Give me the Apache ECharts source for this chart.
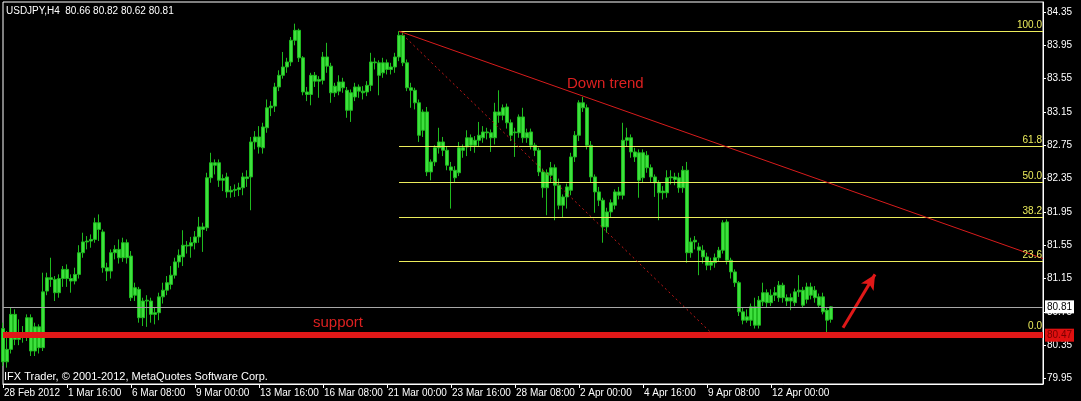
<!DOCTYPE html>
<html><head><meta charset="utf-8">
<script src="https://cdn.jsdelivr.net/npm/echarts@6/dist/echarts.min.js"></script>
<style>html,body{margin:0;padding:0;background:#000;}#c{width:1081px;height:401px;}</style>
</head><body><div id="c"></div>
<script>
// ---- data ----
const tradingDays = ['28 Feb','29 Feb','1 Mar','2 Mar','5 Mar','6 Mar','7 Mar','8 Mar','9 Mar','12 Mar','13 Mar','14 Mar','15 Mar','16 Mar','19 Mar','20 Mar','21 Mar','22 Mar','23 Mar','26 Mar','27 Mar','28 Mar','29 Mar','30 Mar','2 Apr','3 Apr','4 Apr','5 Apr','6 Apr','9 Apr','10 Apr','11 Apr','12 Apr','13 Apr','16 Apr'];
const barHours = ['00:00','04:00','08:00','12:00','16:00','20:00'];

const opens = [80.55,80.15,80.30,80.72,80.42,80.48,80.45,80.68,80.28,80.57,
80.32,81.00,81.16,81.14,80.98,81.15,81.26,81.15,81.12,81.20,
81.46,81.59,81.60,81.62,81.82,81.71,81.28,81.24,81.46,81.50,
81.40,81.58,81.42,80.95,81.02,80.68,80.88,80.88,80.72,80.74,
80.93,81.01,81.08,81.19,81.35,81.41,81.55,81.54,81.58,81.65,
81.77,81.76,82.36,82.54,82.54,82.33,82.37,82.19,82.21,82.22,
82.24,82.37,82.37,82.79,82.85,82.72,82.96,83.20,83.22,83.45,
83.59,83.69,83.75,84.01,84.13,83.80,83.39,83.36,83.59,83.52,
83.53,83.81,83.70,83.38,83.40,83.51,83.41,83.17,83.33,83.45,
83.40,83.39,83.47,83.75,83.74,83.62,83.74,83.66,83.69,83.81,
84.07,83.74,83.44,83.41,83.26,82.93,83.15,82.43,82.55,82.72,
82.79,82.69,82.49,82.45,82.42,82.72,82.73,82.84,82.75,82.81,
82.84,82.91,82.90,82.84,83.15,83.11,83.21,83.02,82.91,82.90,
83.09,82.84,82.91,82.75,82.69,82.43,82.24,82.39,82.48,82.27,
82.03,82.13,82.21,82.61,82.87,83.26,83.20,82.75,82.37,82.19,
82.09,81.77,81.95,82.03,82.19,82.15,82.81,82.84,82.67,82.66,
82.36,82.63,82.48,82.37,82.30,82.18,82.18,82.36,82.37,82.36,
82.24,82.45,81.46,81.59,81.53,81.49,81.41,81.31,81.34,81.40,
81.49,81.83,81.37,81.23,81.10,80.75,80.65,80.65,80.81,80.59,
80.87,80.98,80.86,80.95,80.92,81.07,80.92,80.88,80.86,80.99,
81.01,80.90,81.05,81.01,80.93,80.93,80.77,80.66];
const closes = [80.15,80.30,80.72,80.42,80.48,80.45,80.68,80.28,80.57,80.32,
80.99,81.16,81.14,80.98,81.15,81.26,81.15,81.12,81.20,81.46,
81.59,81.60,81.62,81.82,81.74,81.28,81.24,81.46,81.50,81.40,
81.58,81.40,80.92,81.04,80.68,80.88,80.89,80.72,80.74,80.93,
81.01,81.10,81.19,81.35,81.43,81.55,81.54,81.58,81.65,81.77,
81.74,82.36,82.54,82.51,82.33,82.35,82.19,82.21,82.22,82.24,
82.37,82.35,82.79,82.85,82.73,82.97,83.20,83.22,83.45,83.59,
83.69,83.75,84.01,84.13,83.80,83.39,83.36,83.59,83.52,83.54,
83.81,83.70,83.38,83.46,83.51,83.44,83.17,83.38,83.45,83.40,
83.38,83.47,83.75,83.74,83.59,83.74,83.66,83.69,83.81,84.07,
83.74,83.44,83.41,83.26,82.87,83.15,82.43,82.55,82.72,82.79,
82.69,82.51,82.45,82.36,82.72,82.69,82.84,82.75,82.81,82.87,
82.91,82.90,82.84,83.15,83.11,83.20,83.02,82.87,82.90,83.09,
82.84,82.90,82.75,82.69,82.43,82.24,82.42,82.48,82.27,82.03,
82.13,82.25,82.61,82.87,83.26,83.20,82.75,82.37,82.19,82.09,
81.77,81.95,82.06,82.19,82.15,82.81,82.84,82.67,82.61,82.33,
82.66,82.48,82.37,82.30,82.18,82.20,82.36,82.37,82.34,82.24,
82.45,81.46,81.59,81.61,81.49,81.41,81.31,81.35,81.40,81.49,
81.82,81.37,81.23,81.10,80.75,80.65,80.69,80.81,80.59,80.89,
80.98,80.86,80.95,80.98,81.07,80.92,80.88,80.92,80.99,81.01,
80.83,81.05,80.95,80.92,80.83,80.75,80.65,80.81];
const lows = [80.10,80.08,80.25,80.35,80.35,80.38,80.40,80.22,80.22,80.25,
80.28,80.95,81.05,80.88,80.92,81.05,81.05,80.98,81.08,81.15,
81.40,81.50,81.52,81.58,81.60,81.22,81.12,81.15,81.38,81.33,
81.35,81.33,80.88,80.88,80.62,80.58,80.57,80.62,80.60,80.65,
80.85,80.95,81.02,81.15,81.28,81.30,81.45,81.40,81.50,81.58,
81.47,81.72,82.30,82.40,82.25,82.20,82.12,82.12,82.13,82.14,
82.15,82.25,81.97,82.70,82.65,82.65,82.90,83.10,83.15,83.40,
83.55,83.62,83.70,83.95,83.75,83.35,83.28,83.23,83.45,83.32,
83.48,83.62,83.26,83.33,83.35,83.38,83.08,83.03,83.28,83.32,
83.30,83.34,83.40,83.66,83.35,83.56,83.60,83.60,83.62,83.76,
83.70,83.40,83.20,83.18,82.79,82.85,82.38,82.33,82.50,82.65,
82.62,82.45,81.99,82.30,82.38,82.60,82.62,82.68,82.66,82.74,
82.78,82.82,82.67,82.76,83.02,83.05,82.95,82.80,82.61,82.84,
82.78,82.78,82.70,82.62,82.38,82.12,81.91,82.30,81.85,81.98,
81.88,81.99,82.15,82.55,82.80,83.15,82.70,82.30,81.94,82.02,
81.58,81.70,81.88,81.98,82.10,82.10,82.74,82.60,82.55,82.12,
82.30,82.42,82.30,82.13,81.85,82.10,82.12,82.28,82.27,82.18,
82.18,81.34,81.40,81.50,81.19,81.33,81.25,81.25,81.28,81.35,
81.45,81.32,81.15,81.05,80.70,80.60,80.62,80.58,80.55,80.55,
80.82,80.80,80.82,80.88,80.87,80.86,80.82,80.77,80.82,80.93,
80.80,80.85,80.90,80.86,80.80,80.72,80.50,80.62];
const highs = [80.62,80.52,80.80,80.78,80.66,80.58,80.72,80.72,80.62,80.60,
81.22,81.22,81.40,81.18,81.20,81.30,81.32,81.20,81.28,81.55,
81.70,81.66,81.68,81.88,81.92,81.74,81.34,81.50,81.55,81.62,
81.64,81.62,81.48,81.10,81.05,80.92,80.95,80.92,80.80,80.98,
81.10,81.18,81.30,81.40,81.50,81.73,81.60,81.65,81.72,81.89,
81.82,82.42,82.66,82.58,82.58,82.40,82.42,82.26,82.28,82.30,
82.42,82.45,82.85,82.92,82.98,83.02,83.30,83.28,83.50,83.65,
83.87,83.80,84.05,84.21,84.15,83.82,83.45,83.62,83.63,83.58,
83.87,83.98,83.74,83.50,83.59,83.56,83.45,83.42,83.50,83.48,
83.46,83.52,83.86,83.80,83.77,83.80,83.78,83.74,83.86,84.12,
84.10,83.78,83.50,83.44,83.30,83.18,83.21,82.58,82.75,82.96,
82.85,82.73,82.55,82.50,82.79,82.76,82.93,82.88,82.86,83.03,
82.98,82.96,82.94,83.26,83.41,83.24,83.25,83.06,82.96,83.12,
83.20,82.95,82.95,82.78,82.72,82.47,82.46,82.55,82.52,82.35,
82.16,82.29,82.66,82.92,83.29,83.33,83.24,82.80,82.40,82.25,
82.12,82.00,82.10,82.22,82.25,83.02,82.96,82.88,82.72,82.70,
82.70,82.68,82.52,82.40,82.33,82.26,82.45,82.45,82.42,82.42,
82.50,82.55,81.64,81.66,81.58,81.55,81.46,81.40,81.45,81.53,
81.85,81.86,81.40,81.26,81.12,80.80,80.78,80.85,80.92,80.94,
81.10,81.02,81.02,81.05,81.12,81.10,80.96,80.97,81.03,81.19,
81.05,81.10,81.10,81.06,80.97,80.98,80.80,80.82];

const yTickValues = [79.95,80.35,80.75,81.15,81.55,81.95,82.35,82.75,83.15,83.55,83.95,84.35];
const fibLevels = [100.0,61.8,50.0,38.2,23.6,0.0];
const fibHigh = 84.12, fibLow = 80.50;
const trendEnd = 81.39;
const lastPrice = 80.81, supportPrice = 80.47;
const arrowFrom = 80.56, arrowTo = 81.20;
const titleText = 'USDJPY,H4  80.66 80.82 80.62 80.81';

// ---- build ----
const nBars = opens.length;
const totalSlots = 261;
const categories = [];
for (let i = 0; i < totalSlots; i++) {
  if (i < nBars) {
    const d = tradingDays[Math.floor(i / 6)];
    categories.push(i === 0 ? d + ' 2012' : d + ' ' + barHours[i % 6]);
  } else categories.push('f' + i);
}
const candles = opens.map((o, i) => [o, closes[i], lows[i], highs[i]]);
const labelEvery = (idx) => idx % 16 === 0 && idx < nBars;
const FONT = '"Liberation Sans", Arial, sans-serif';
const FIB = '#ecec5c';
const RED = '#e01818';

const markLines = [];
fibLevels.forEach(l => {
  const p = fibLow + (fibHigh - fibLow) * l / 100;
  markLines.push([
    {coord: [99, p], lineStyle: {color: FIB, width: 1, type: 'solid'},
     label: {show: true, position: 'insideEndTop', formatter: l.toFixed(1), color: FIB, fontSize: 10, fontFamily: FONT, distance: 1}},
    {coord: [totalSlots - 1, p]}
  ]);
});
markLines.push([
  {coord: [99, fibHigh], lineStyle: {color: '#c41818', width: 1, type: [2, 3]}, label: {show: false}},
  {coord: [177, fibLow]}
]);
markLines.push([
  {coord: [99, fibHigh], lineStyle: {color: '#d81c1c', width: 1, type: 'solid'}, label: {show: false}},
  {coord: [totalSlots - 1, trendEnd]}
]);
markLines.push([
  {coord: [210, arrowFrom], symbol: 'none', lineStyle: {color: RED, width: 3, type: 'solid'}, label: {show: false}},
  {coord: [218, arrowTo], symbol: 'arrow', symbolSize: [11, 15]}
]);
markLines.push({yAxis: lastPrice, lineStyle: {color: '#a8a8a8', width: 1, type: 'solid'},
  label: {show: true, position: 'end', formatter: lastPrice.toFixed(2), backgroundColor: '#fff', color: '#000',
          fontSize: 10, fontFamily: FONT, padding: [2, 2, 1, 2], distance: 2}});
markLines.push({yAxis: supportPrice, lineStyle: {color: RED, width: 6, type: 'solid'},
  label: {show: true, position: 'end', formatter: supportPrice.toFixed(2), backgroundColor: '#e01010', color: '#7a0000',
          fontSize: 10, fontFamily: FONT, padding: [2, 2, 1, 2], distance: 2}});

const chart = echarts.init(document.getElementById('c'), null, {renderer: 'canvas'});
chart.setOption({
  animation: false,
  backgroundColor: '#000',
  grid: {left: 3, right: 38, top: 2, bottom: 17, show: true, borderColor: '#fff', borderWidth: 1, backgroundColor: '#000'},
  xAxis: {
    type: 'category', data: categories, boundaryGap: false,
    axisLine: {show: true, lineStyle: {color: '#fff', width: 1}},
    axisTick: {show: true, interval: labelEvery, length: 4, lineStyle: {color: '#fff'}},
    axisLabel: {interval: labelEvery, color: '#fff', fontSize: 10, fontFamily: FONT, align: 'left', margin: 4, padding: [0, 0, 0, 1]},
    splitLine: {show: false}
  },
  yAxis: {
    type: 'value', position: 'right', min: 79.884, max: 84.47,
    splitLine: {show: false},
    axisLine: {show: true, lineStyle: {color: '#fff', width: 1}},
    axisTick: {show: true, length: 3, customValues: yTickValues, lineStyle: {color: '#fff'}},
    axisLabel: {customValues: yTickValues, color: '#fff', fontSize: 10, fontFamily: FONT, margin: 4, formatter: v => v.toFixed(2)}
  },
  series: [{
    type: 'candlestick', data: candles, barWidth: 3,
    itemStyle: {color: '#3ee03e', color0: '#3ee03e', borderColor: '#1fbb1f', borderColor0: '#1fbb1f', borderWidth: 1},
    markLine: {silent: true, symbol: ['none', 'none'], animation: false, data: markLines}
  }],
  graphic: [
    {type: 'text', left: 6, top: 6, z: 100, style: {text: titleText, fill: '#fff', font: '10px ' + FONT}},
    {type: 'text', left: 4, top: 371, z: 100, style: {text: 'IFX Trader, © 2001-2012, MetaQuotes Software Corp.', fill: '#fff', font: '11px ' + FONT}},
    {type: 'text', left: 567, top: 76, z: 100, style: {text: 'Down trend', fill: '#dc2020', font: '15px ' + FONT}},
    {type: 'text', left: 313, top: 315, z: 100, style: {text: 'support', fill: '#dc2020', font: '15px ' + FONT}}
  ]
});
</script></body></html>
